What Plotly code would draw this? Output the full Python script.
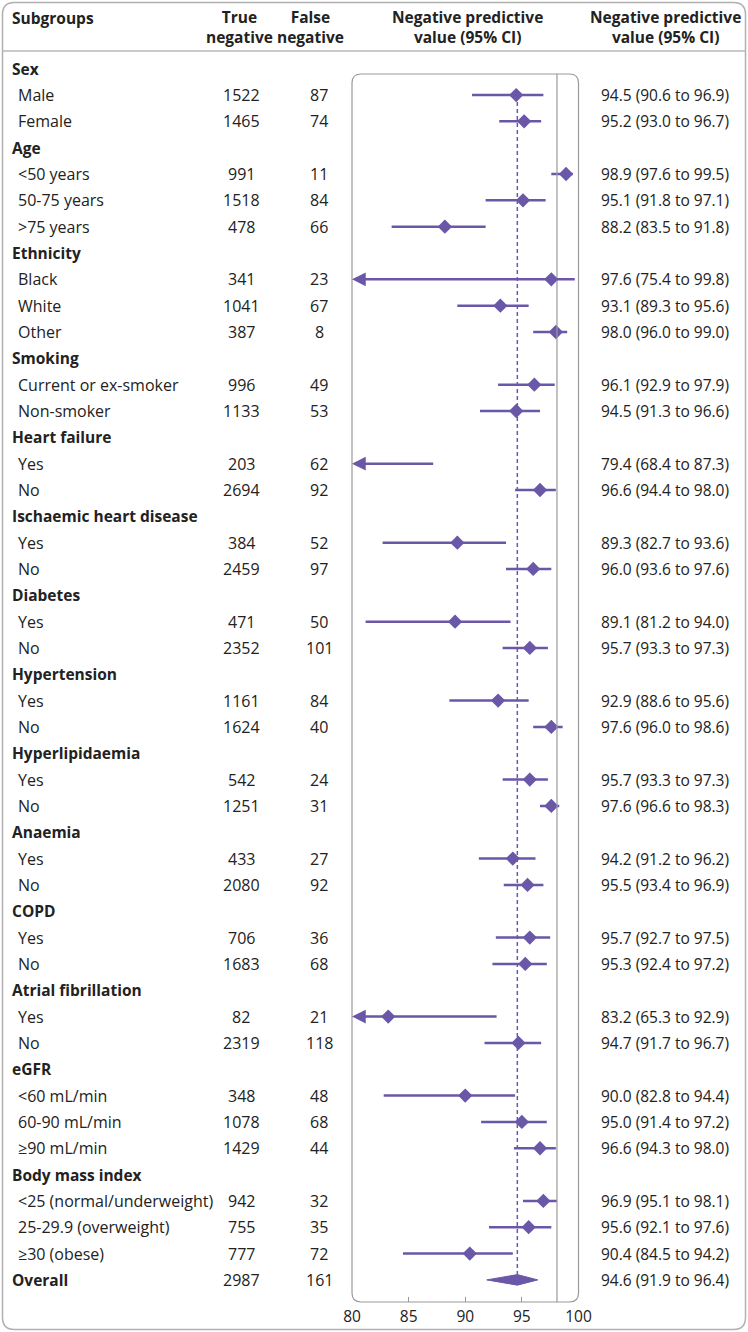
import plotly.graph_objects as go

# ---------------- data ----------------
labels = ["Sex", "Male", "Female",
          "Age", "<50 years", "50-75 years", ">75 years",
          "Ethnicity", "Black", "White", "Other",
          "Smoking", "Current or ex-smoker", "Non-smoker",
          "Heart failure", "Yes", "No",
          "Ischaemic heart disease", "Yes", "No",
          "Diabetes", "Yes", "No",
          "Hypertension", "Yes", "No",
          "Hyperlipidaemia", "Yes", "No",
          "Anaemia", "Yes", "No",
          "COPD", "Yes", "No",
          "Atrial fibrillation", "Yes", "No",
          "eGFR", "<60 mL/min", "60-90 mL/min", "≥90 mL/min",
          "Body mass index", "<25 (normal/underweight)", "25-29.9 (overweight)", "≥30 (obese)",
          "Overall"]

true_negative = [None, 1522, 1465, None, 991, 1518, 478, None, 341, 1041, 387, None, 996, 1133,
                 None, 203, 2694, None, 384, 2459, None, 471, 2352, None, 1161, 1624, None, 542, 1251,
                 None, 433, 2080, None, 706, 1683, None, 82, 2319, None, 348, 1078, 1429,
                 None, 942, 755, 777, 2987]
false_negative = [None, 87, 74, None, 11, 84, 66, None, 23, 67, 8, None, 49, 53,
                  None, 62, 92, None, 52, 97, None, 50, 101, None, 84, 40, None, 24, 31,
                  None, 27, 92, None, 36, 68, None, 21, 118, None, 48, 68, 44,
                  None, 32, 35, 72, 161]
npv = [None, 94.5, 95.2, None, 98.9, 95.1, 88.2, None, 97.6, 93.1, 98.0, None, 96.1, 94.5,
       None, 79.4, 96.6, None, 89.3, 96.0, None, 89.1, 95.7, None, 92.9, 97.6, None, 95.7, 97.6,
       None, 94.2, 95.5, None, 95.7, 95.3, None, 83.2, 94.7, None, 90.0, 95.0, 96.6,
       None, 96.9, 95.6, 90.4, 94.6]
ci_low = [None, 90.6, 93.0, None, 97.6, 91.8, 83.5, None, 75.4, 89.3, 96.0, None, 92.9, 91.3,
          None, 68.4, 94.4, None, 82.7, 93.6, None, 81.2, 93.3, None, 88.6, 96.0, None, 93.3, 96.6,
          None, 91.2, 93.4, None, 92.7, 92.4, None, 65.3, 91.7, None, 82.8, 91.4, 94.3,
          None, 95.1, 92.1, 84.5, 91.9]
ci_high = [None, 96.9, 96.7, None, 99.5, 97.1, 91.8, None, 99.8, 95.6, 99.0, None, 97.9, 96.6,
           None, 87.3, 98.0, None, 93.6, 97.6, None, 94.0, 97.3, None, 95.6, 98.6, None, 97.3, 98.3,
           None, 96.2, 96.9, None, 97.5, 97.2, None, 92.9, 96.7, None, 94.4, 97.2, 98.0,
           None, 98.1, 97.6, 94.2, 96.4]

x_ticks = [80, 85, 90, 95, 100]
x_min, x_max = 80, 100
overall_line = 94.6
ref_line = 98.1

# ---------------- style / layout ----------------
W, H = 748, 1332
PURPLE = "#6A57A8"
GREY = "#9a9a9a"
TXT = "#222222"
FONT = "Open Sans"
FS_LABEL = 16
FS_NUM = 16
FS_CI = 15.5
FS_HEAD = 15.5

row0_px, row_step = 68.7, 26.33          # pixel centre of first row and spacing
y_top = -row0_px / row_step
y_bot = (H - row0_px) / row_step
box_l, box_r, box_t, box_b = 352, 578.5, 74, 1302

n = len(labels)
overall_idx = n - 1


def px(xp):
    return xp / W


def py(yp):
    return 1 - yp / H


def rounded_rect(x0, y0, x1, y1, r):
    return (f"M {px(x0 + r)} {py(y0)} L {px(x1 - r)} {py(y0)} "
            f"Q {px(x1)} {py(y0)} {px(x1)} {py(y0 + r)} "
            f"L {px(x1)} {py(y1 - r)} Q {px(x1)} {py(y1)} {px(x1 - r)} {py(y1)} "
            f"L {px(x0 + r)} {py(y1)} Q {px(x0)} {py(y1)} {px(x0)} {py(y1 - r)} "
            f"L {px(x0)} {py(y0 + r)} Q {px(x0)} {py(y0)} {px(x0 + r)} {py(y0)} Z")


fig = go.Figure()

# CI lines (rows within axis range)
lx, ly = [], []
arrows = []
for i in range(n - 1):
    if npv[i] is None:
        continue
    if ci_low[i] < x_min:
        arrows.append(i)
        continue
    lx += [ci_low[i], ci_high[i], None]
    ly += [i, i, None]
fig.add_trace(go.Scatter(x=lx, y=ly, mode="lines",
                         line=dict(color=PURPLE, width=2.5), hoverinfo="skip"))

# diamonds
dx = [npv[i] for i in range(n - 1) if npv[i] is not None and npv[i] >= x_min]
dy = [i for i in range(n - 1) if npv[i] is not None and npv[i] >= x_min]
fig.add_trace(go.Scatter(x=dx, y=dy, mode="markers",
                         marker=dict(symbol="diamond", size=11, color=PURPLE,
                                     line=dict(width=0))))

# overall diamond
h = 0.2
fig.add_trace(go.Scatter(
    x=[ci_low[overall_idx], npv[overall_idx], ci_high[overall_idx], npv[overall_idx], ci_low[overall_idx]],
    y=[overall_idx, overall_idx - h, overall_idx, overall_idx + h, overall_idx],
    mode="lines", fill="toself", fillcolor=PURPLE, line=dict(color=PURPLE, width=1),
    hoverinfo="skip"))

annotations = []
# arrows for truncated CIs
for i in arrows:
    annotations.append(dict(x=x_min, y=i, ax=ci_high[i], ay=i, xref="x", yref="y",
                            axref="x", ayref="y", text="", showarrow=True,
                            arrowhead=2, arrowsize=1.1, arrowwidth=2.5, arrowcolor=PURPLE,
                            standoff=0, startstandoff=0))


def txt(x, y, s, size, anchor="center", bold=False, color=TXT):
    annotations.append(dict(x=px(x), y=y, xref="paper", yref="y", text=(f"<b>{s}</b>" if bold else s),
                            showarrow=False, xanchor=anchor, yanchor="middle",
                            font=dict(family=FONT, size=size, color=color)))


def htxt(x, yp, s, anchor="center"):
    annotations.append(dict(x=px(x), y=py(yp), xref="paper", yref="paper", text=s,
                            showarrow=False, xanchor=anchor, yanchor="middle", align="center",
                            font=dict(family=FONT, size=FS_HEAD, color=TXT)))


htxt(10, 18, "<b>Subgroups</b>", "left")
htxt(239, 27, "<b>True</b><br><b>negative</b>")
htxt(310, 27, "<b>False</b><br><b>negative</b>")
htxt(467, 27, "<b>Negative predictive</b><br><b>value (95% CI)</b>")
htxt(665, 27, "<b>Negative predictive</b><br><b>value (95% CI)</b>")

for i, lab in enumerate(labels):
    header = npv[i] is None
    if header or i == overall_idx:
        txt(10, i, lab, FS_HEAD, "left", bold=True)
    else:
        txt(16, i, lab, FS_LABEL, "left")
    if true_negative[i] is not None:
        txt(241, i, f"{true_negative[i]}", FS_NUM)
        txt(319, i, f"{false_negative[i]}", FS_NUM)
        txt(665, i, f"{npv[i]:.1f} ({ci_low[i]:.1f} to {ci_high[i]:.1f})", FS_CI)

shapes = [
    # outer frame
    dict(type="path", path=rounded_rect(2.5, 2.5, 745.5, 1329.5, 12), xref="paper", yref="paper",
         line=dict(color="#b0b0b0", width=1.5)),
    # header separator
    dict(type="line", x0=px(2.5), x1=px(745.5), y0=py(51), y1=py(51), xref="paper", yref="paper",
         line=dict(color="#b8b8b8", width=1.5)),
    # plot box
    dict(type="path", path=rounded_rect(box_l, box_t, box_r, box_b, 9), xref="paper", yref="paper",
         line=dict(color=GREY, width=1.2)),
    # reference line
    dict(type="line", x0=ref_line, x1=ref_line, y0=py(box_t), y1=py(box_b), xref="x", yref="paper",
         line=dict(color=GREY, width=1.2)),
    # overall dashed line
    dict(type="line", x0=overall_line, x1=overall_line, y0=1, y1=overall_idx - h, xref="x", yref="y",
         line=dict(color=PURPLE, width=1.5, dash="4px,3px")),
]

fig.update_layout(
    width=W, height=H, autosize=False,
    margin=dict(l=0, r=0, t=0, b=0, pad=0, autoexpand=False),
    paper_bgcolor="white", plot_bgcolor="rgba(0,0,0,0)",
    showlegend=False, annotations=annotations, shapes=shapes,
    font=dict(family=FONT, size=FS_LABEL, color=TXT),
    xaxis=dict(domain=[box_l / W, box_r / W], range=[x_min, x_max], tickvals=x_ticks,
               ticks="inside", ticklen=5, tickcolor=GREY, tickwidth=1.2, showgrid=False,
               zeroline=False, showline=False, anchor="free", position=py(box_b),
               automargin=False, ticklabelstandoff=3,
               tickfont=dict(family=FONT, size=15.5, color=TXT), fixedrange=True),
    yaxis=dict(domain=[0, 1], range=[y_bot, y_top], visible=False, fixedrange=True,
               automargin=False),
)

fig.write_html("out.html", config={"displayModeBar": False, "responsive": False},
               post_script=("document.documentElement.style.overflow='hidden';"
                            "document.body.style.overflow='hidden';"
                            "document.body.style.margin='0';"))
